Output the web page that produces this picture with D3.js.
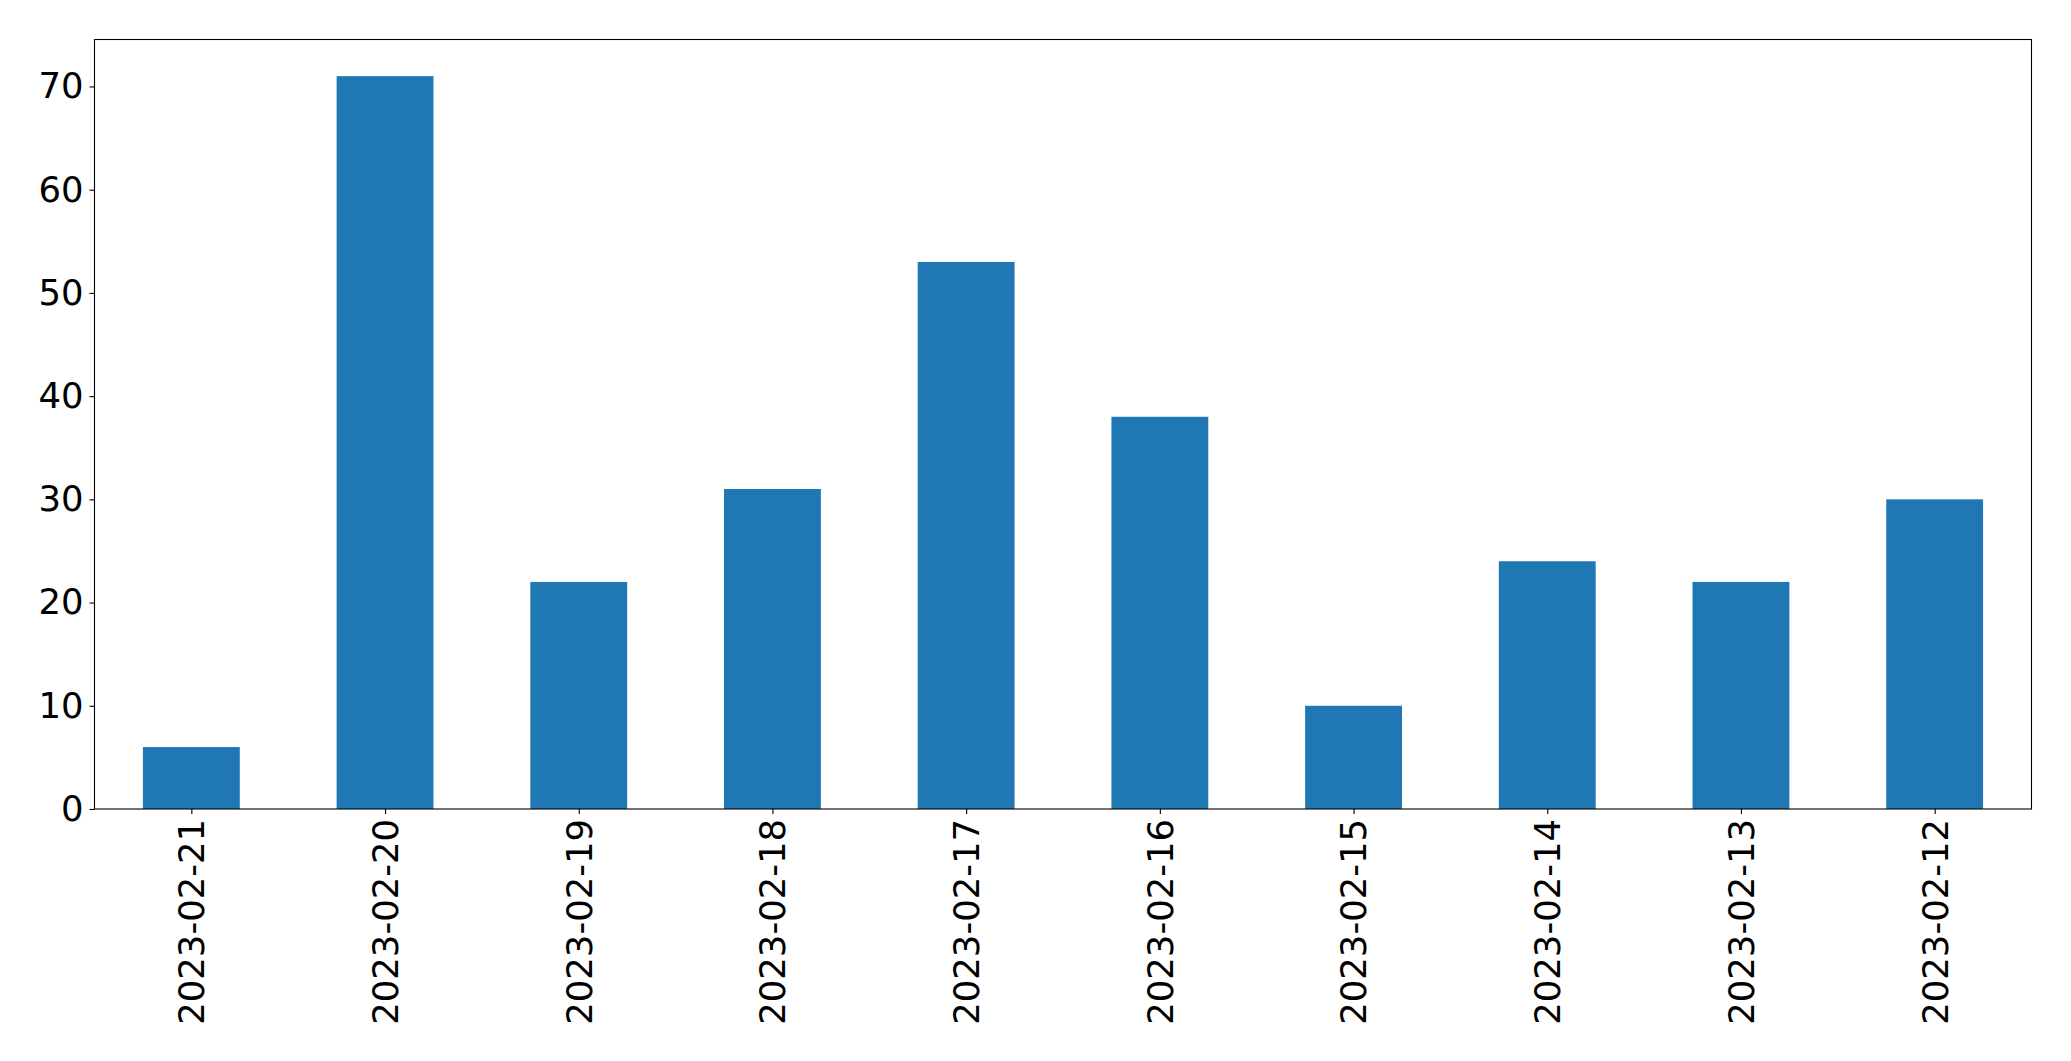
<!DOCTYPE html>
<html><head><meta charset="utf-8">
<script src="https://cdn.jsdelivr.net/npm/d3@7"></script>
<style>body{margin:0;background:#fff;} svg{display:block;}</style>
</head><body>
<script>
const categories = ["2023-02-21","2023-02-20","2023-02-19","2023-02-18","2023-02-17","2023-02-16","2023-02-15","2023-02-14","2023-02-13","2023-02-12"];
const values = [6, 71, 22, 31, 53, 38, 10, 24, 22, 30];
const yTicks = [0, 10, 20, 30, 40, 50, 60, 70];

const W = 2071, H = 1061;
const mLeft = 94.5, mRight = 2031.5, mTop = 39.5, mBottom = 809;
const fontSize = 35.4;
const svg = d3.select("body").append("svg").attr("width", W).attr("height", H);

const x = d3.scaleLinear().domain([-0.5, categories.length - 0.5]).range([mLeft, mRight]);
const y = d3.scaleLinear().domain([0, d3.max(values) * 1.05]).range([mBottom, mTop]);

svg.append("g").selectAll("rect").data(values).join("rect")
  .attr("x", (d, i) => x(i - 0.25))
  .attr("width", (d, i) => x(i + 0.25) - x(i - 0.25))
  .attr("y", d => y(d))
  .attr("height", d => y(0) - y(d))
  .attr("fill", "#1f77b4");

const yAxis = svg.append("g").attr("transform", `translate(${mLeft},0)`)
  .call(d3.axisLeft(y).tickValues(yTicks).tickSize(5).tickPadding(6));
yAxis.select(".domain").remove();
yAxis.selectAll("line").attr("stroke", "#000").attr("stroke-width", 1.1);
yAxis.selectAll("text").attr("font-family", "DejaVu Sans").attr("font-size", fontSize).attr("fill", "#000");

const xAxis = svg.append("g").attr("transform", `translate(0,${mBottom})`)
  .call(d3.axisBottom(x).tickValues(d3.range(categories.length)).tickFormat(i => categories[i]).tickSize(5).tickPadding(5));
xAxis.select(".domain").remove();
xAxis.selectAll("line").attr("stroke", "#000").attr("stroke-width", 1.1);
xAxis.selectAll("text")
  .attr("font-family", "DejaVu Sans").attr("font-size", fontSize).attr("fill", "#000")
  .attr("transform", "rotate(-90)")
  .attr("x", -10).attr("y", 0).attr("dy", "0.35em")
  .attr("text-anchor", "end");

svg.append("rect").attr("x", mLeft).attr("y", mTop).attr("width", mRight - mLeft).attr("height", mBottom - mTop)
  .attr("fill", "none").attr("stroke", "#000").attr("stroke-width", 1.1);
</script>
</body></html>
